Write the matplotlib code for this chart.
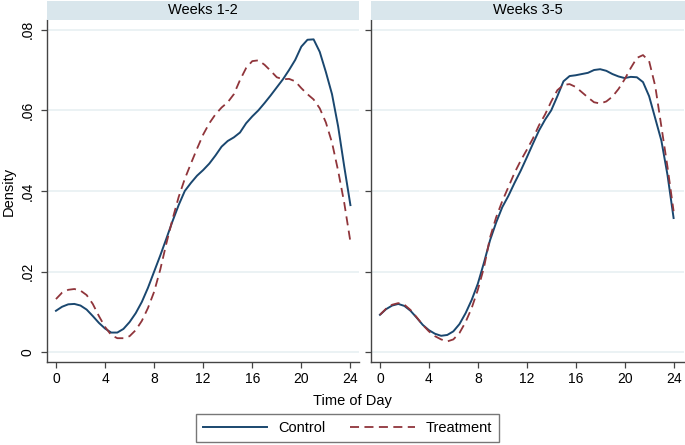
import matplotlib
matplotlib.use("Agg")
import matplotlib.pyplot as plt
from matplotlib.patches import Rectangle
from matplotlib.lines import Line2D

plt.rcParams['font.family'] = ['Liberation Sans', 'DejaVu Sans']

hours = [i * 0.5 for i in range(49)]

w12_control = [0.0103, 0.0113, 0.0119, 0.0120, 0.0116, 0.0106, 0.0090, 0.0073, 0.0059, 0.0049,
               0.0049, 0.0058, 0.0075, 0.0097, 0.0125, 0.0160, 0.0200, 0.0240, 0.0282, 0.0325,
               0.0365, 0.0400, 0.0420, 0.0438, 0.0452, 0.0468, 0.0488, 0.0510, 0.0524, 0.0533,
               0.0545, 0.0568, 0.0585, 0.0600, 0.0618, 0.0637, 0.0657, 0.0677, 0.0700, 0.0725,
               0.0758, 0.0775, 0.0776, 0.0745, 0.0695, 0.0640, 0.0560, 0.0460, 0.0365]
w12_treat = [0.0132, 0.0148, 0.0155, 0.0157, 0.0153, 0.0142, 0.0120, 0.0090, 0.0063, 0.0043,
             0.0035, 0.0035, 0.0040, 0.0055, 0.0078, 0.0110, 0.0150, 0.0205, 0.0270, 0.0330,
             0.0385, 0.0430, 0.0468, 0.0505, 0.0540, 0.0568, 0.0590, 0.0607, 0.0620, 0.0640,
             0.0675, 0.0705, 0.0722, 0.0724, 0.0713, 0.0698, 0.0682, 0.0677, 0.0678, 0.0672,
             0.0655, 0.0640, 0.0627, 0.0605, 0.0570, 0.0520, 0.0450, 0.0370, 0.0274]
w35_control = [0.0093, 0.0107, 0.0116, 0.0120, 0.0115, 0.0103, 0.0086, 0.0068, 0.0055, 0.0046,
               0.0041, 0.0043, 0.0052, 0.0070, 0.0097, 0.0130, 0.0170, 0.0222, 0.0278, 0.0322,
               0.0360, 0.0388, 0.0420, 0.0450, 0.0483, 0.0517, 0.0550, 0.0577, 0.0600, 0.0635,
               0.0672, 0.0685, 0.0687, 0.0690, 0.0693, 0.0700, 0.0702, 0.0698, 0.0690, 0.0684,
               0.0680, 0.0683, 0.0682, 0.0670, 0.0635, 0.0580, 0.0525, 0.0440, 0.0333]
w35_treat = [0.0093, 0.0108, 0.0118, 0.0122, 0.0118, 0.0105, 0.0087, 0.0068, 0.0052, 0.0040,
             0.0032, 0.0027, 0.0032, 0.0048, 0.0075, 0.0110, 0.0155, 0.0210, 0.0285, 0.0335,
             0.0375, 0.0410, 0.0445, 0.0475, 0.0502, 0.0530, 0.0563, 0.0590, 0.0622, 0.0650,
             0.0663, 0.0665, 0.0658, 0.0645, 0.0632, 0.0620, 0.0617, 0.0622, 0.0634, 0.0653,
             0.0677, 0.0705, 0.0730, 0.0737, 0.0722, 0.0660, 0.0560, 0.0460, 0.0350]

panel_titles = ["Weeks 1-2", "Weeks 3-5"]
series_labels = ["Control", "Treatment"]
x_ticks = [0, 4, 8, 12, 16, 20, 24]
y_ticks = [0, 0.02, 0.04, 0.06, 0.08]
y_tick_labels = ["0", ".02", ".04", ".06", ".08"]

BLUE = "#1a476f"
RED = "#90353b"
STRIP = "#d9e6ec"
GRID = "#e8f0f2"
AXC = "#444444"

W, H = 685, 445
fig = plt.figure(figsize=(W / 100, H / 100), dpi=100)
fig.patch.set_facecolor("white")

def fx(px):
    return px / W

def fy(py):
    return 1 - py / H

panels = [
    (47, 359, w12_control, w12_treat),
    (371, 684, w35_control, w35_treat),
]
top_px, bot_px = 20, 362

for i, (x0, x1, ctrl, trt) in enumerate(panels):
    ax = fig.add_axes([fx(x0), fy(bot_px), (x1 - x0) / W, (bot_px - top_px) / H])
    ax.plot(hours, ctrl, color=BLUE, lw=1.4, solid_joinstyle="round")
    ax.plot(hours, trt, color=RED, lw=1.3, dashes=(5, 3))
    ax.set_xlim(-0.73, 24.7 if i == 0 else 24.85)
    ax.set_ylim(-0.0024, 0.0824)
    ax.set_xticks(x_ticks)
    ax.set_xticklabels([str(t) for t in x_ticks])
    ax.set_yticks(y_ticks)
    ax.set_yticklabels(y_tick_labels if i == 0 else [])
    ax.yaxis.grid(True, color=GRID, lw=1.2)
    ax.set_axisbelow(True)
    for s in ["top", "right"]:
        ax.spines[s].set_visible(False)
    for s in ["left", "bottom"]:
        ax.spines[s].set_color(AXC)
        ax.spines[s].set_linewidth(1.0)
    ax.tick_params(axis="both", colors=AXC, labelcolor="black", labelsize=10, length=4, width=0.9)
    ax.tick_params(axis="x", pad=3)
    ax.tick_params(axis="y", pad=5)
    for lbl in ax.get_yticklabels():
        lbl.set_rotation(90)
        lbl.set_va("center")
    # strip
    fig.patches.append(Rectangle((fx(x0), fy(top_px)), (x1 + (1 if i == 1 else 0) - x0) / W, (top_px - 1) / H,
                                 transform=fig.transFigure, facecolor=STRIP, edgecolor="none"))
    fig.text(fx((x0 + x1) / 2), fy(10.5), panel_titles[i], ha="center", va="center", fontsize=10.5)

fig.text(fx(9), fy(191), "Density", rotation=90, ha="center", va="center", fontsize=10.5)
fig.text(fx(352), fy(401), "Time of Day", ha="center", va="center", fontsize=10.5)

handles = [Line2D([], [], color=BLUE, lw=1.4),
           Line2D([], [], color=RED, lw=1.3, dashes=(5, 3))]
leg = fig.legend(handles, series_labels, loc="center", bbox_to_anchor=(fx(347.5), fy(428)),
                 ncol=2, fontsize=10.5, frameon=True, fancybox=False, handlelength=4.4,
                 handletextpad=0.75, columnspacing=1.7, borderpad=0.5)
leg.get_frame().set_edgecolor("#555555")
leg.get_frame().set_linewidth(1.0)

fig.savefig("out.png", dpi=100, facecolor="white")
